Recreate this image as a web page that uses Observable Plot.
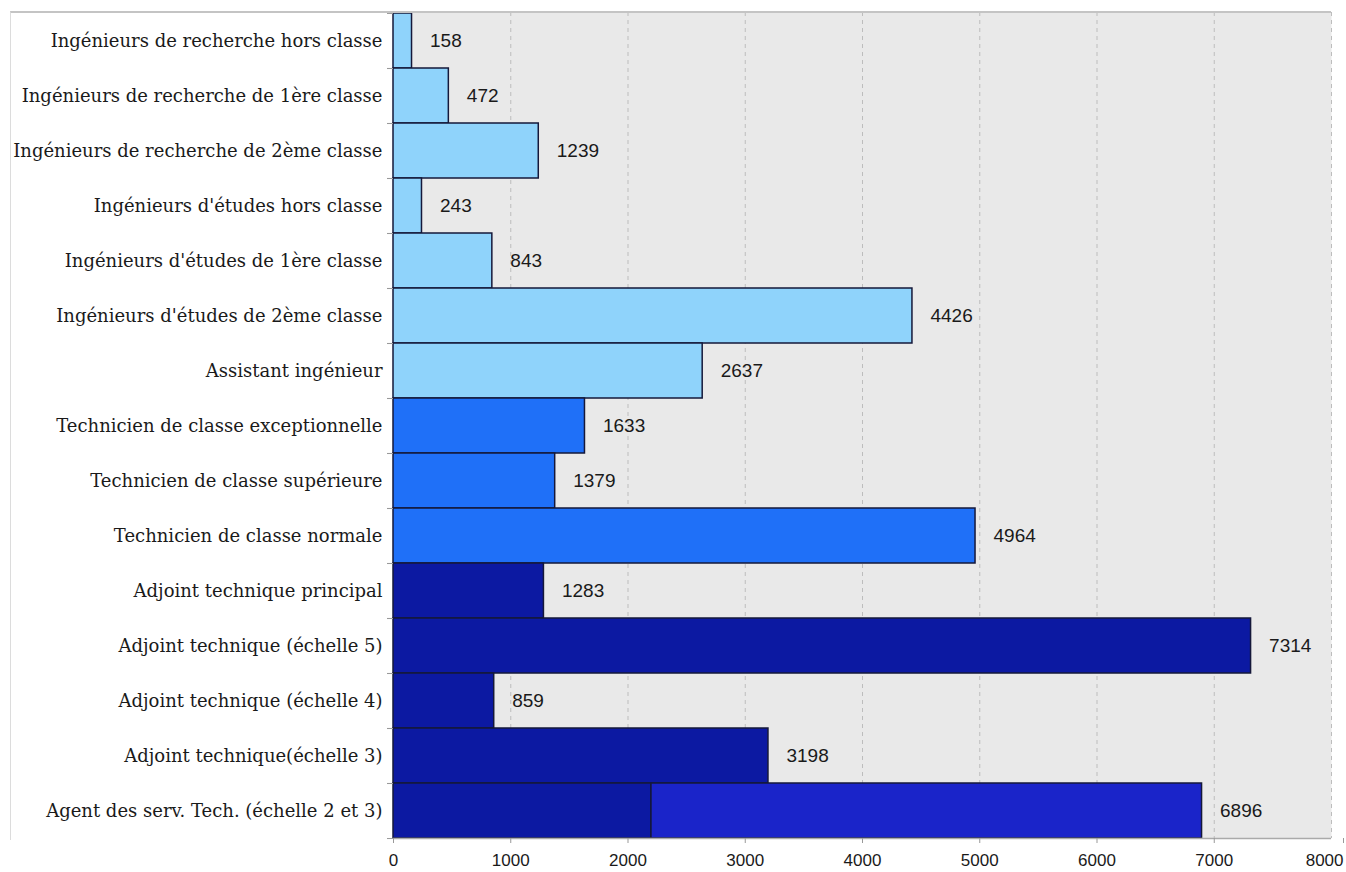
<!DOCTYPE html>
<html>
<head>
<meta charset="utf-8">
<script src="https://cdn.jsdelivr.net/npm/d3@7"></script>
<script src="https://cdn.jsdelivr.net/npm/@observablehq/plot@0.6"></script>
<style>
  html, body { margin: 0; padding: 0; background: #fff; }
  #wrap { position: relative; width: 1346px; height: 872px; }
  #border { position: absolute; left: 10px; top: 11px; width: 1320px; height: 827px;
            border-top: 2px solid #c4c4c4; border-left: 1px solid #dcdcdc; pointer-events: none; }
</style>
</head>
<body>
<div id="wrap"><div id="border"></div></div>
<script>
const categories = [
  "Ingénieurs de recherche hors classe",
  "Ingénieurs de recherche de 1ère classe",
  "Ingénieurs de recherche de 2ème classe",
  "Ingénieurs d'études hors classe",
  "Ingénieurs d'études de 1ère classe",
  "Ingénieurs d'études de 2ème classe",
  "Assistant ingénieur",
  "Technicien de classe exceptionnelle",
  "Technicien de classe supérieure",
  "Technicien de classe normale",
  "Adjoint technique principal",
  "Adjoint technique (échelle 5)",
  "Adjoint technique (échelle 4)",
  "Adjoint technique(échelle 3)",
  "Agent des serv. Tech. (échelle 2 et 3)"
];
const values = [158, 472, 1239, 243, 843, 4426, 2637, 1633, 1379, 4964, 1283, 7314, 859, 3198, 6896];
const groups = ["IR","IR","IR","IE","IE","IE","AI","T","T","T","A","A","A","A","A"];
// The last bar is split in two parts
const splitCategory = "Agent des serv. Tech. (échelle 2 et 3)";
const splitValue = 2200;
const splitGroup = "A2";
const xTicks = [0, 1000, 2000, 3000, 4000, 5000, 6000, 7000, 8000];

const groupDomain = ["IR", "IE", "AI", "T", "A", "A2"];
const groupColors = ["#8fd3fb", "#8fd3fb", "#8fd3fb", "#1f70f8", "#0c19a2", "#1a24c9"];

const segments = [];
categories.forEach((c, i) => {
  if (c === splitCategory) {
    segments.push({cat: c, x1: 0, x2: splitValue, g: groups[i]});
    segments.push({cat: c, x1: splitValue, x2: values[i], g: splitGroup});
  } else {
    segments.push({cat: c, x1: 0, x2: values[i], g: groups[i]});
  }
});
const labels = categories.map((c, i) => ({cat: c, v: values[i]}));

const height = 872, marginTop = 12, marginBottom = 34;
const bw = (height - marginTop - marginBottom) / categories.length;
const sans = "Liberation Sans, Arial, Helvetica, sans-serif";

const chart = Plot.plot({
  width: 1346,
  height,
  marginLeft: 393,
  marginRight: 15,
  marginTop,
  marginBottom,
  style: {background: "transparent", overflow: "visible"},
  x: {domain: [0, 8000]},
  y: {domain: categories, padding: 0},
  color: {domain: groupDomain, range: groupColors},
  marks: [
    Plot.frame({fill: "#e9e9e9", stroke: null}),
    Plot.gridX(xTicks.slice(1), {stroke: "#bdbdbd", strokeOpacity: 1, strokeDasharray: "4,4"}),
    Plot.barX(segments, {y: "cat", x1: "x1", x2: "x2", fill: "g", stroke: "#15183a", strokeWidth: 1.5}),
    Plot.text(labels, {y: "cat", x: "v", text: d => String(d.v), dx: 18, textAnchor: "start",
      fontSize: 19, fontFamily: sans, fill: "#1a1a1a"}),
    Plot.axisY({tickSize: 0, tickPadding: 11, fontSize: 18,
      fontFamily: "DejaVu Serif, Georgia, serif", color: "#1a1a1a", label: null}),
    Plot.axisY({tickSize: 6, text: null, dy: -bw / 2, stroke: "#999", label: null}),
    Plot.axisY({tickSize: 6, text: null, dy: bw / 2, stroke: "#999", label: null}),
    Plot.ruleY([0], {y: () => categories[categories.length - 1], dy: bw / 2, stroke: "#aaa", strokeWidth: 1.5}),
    Plot.axisX({ticks: xTicks.slice(0, -1), tickFormat: "d", tickSize: 5, tickPadding: 10, fontSize: 17,
      fontFamily: sans, color: "#1a1a1a", stroke: "#999", label: null}),
    Plot.axisX({ticks: xTicks.slice(-1), tickFormat: "d", tickSize: 5, tickPadding: 10, fontSize: 17,
      textAnchor: "end", dx: 12, fontFamily: sans, color: "#1a1a1a", stroke: "#999", label: null})
  ]
});
document.getElementById("wrap").prepend(chart);
</script>
</body>
</html>
